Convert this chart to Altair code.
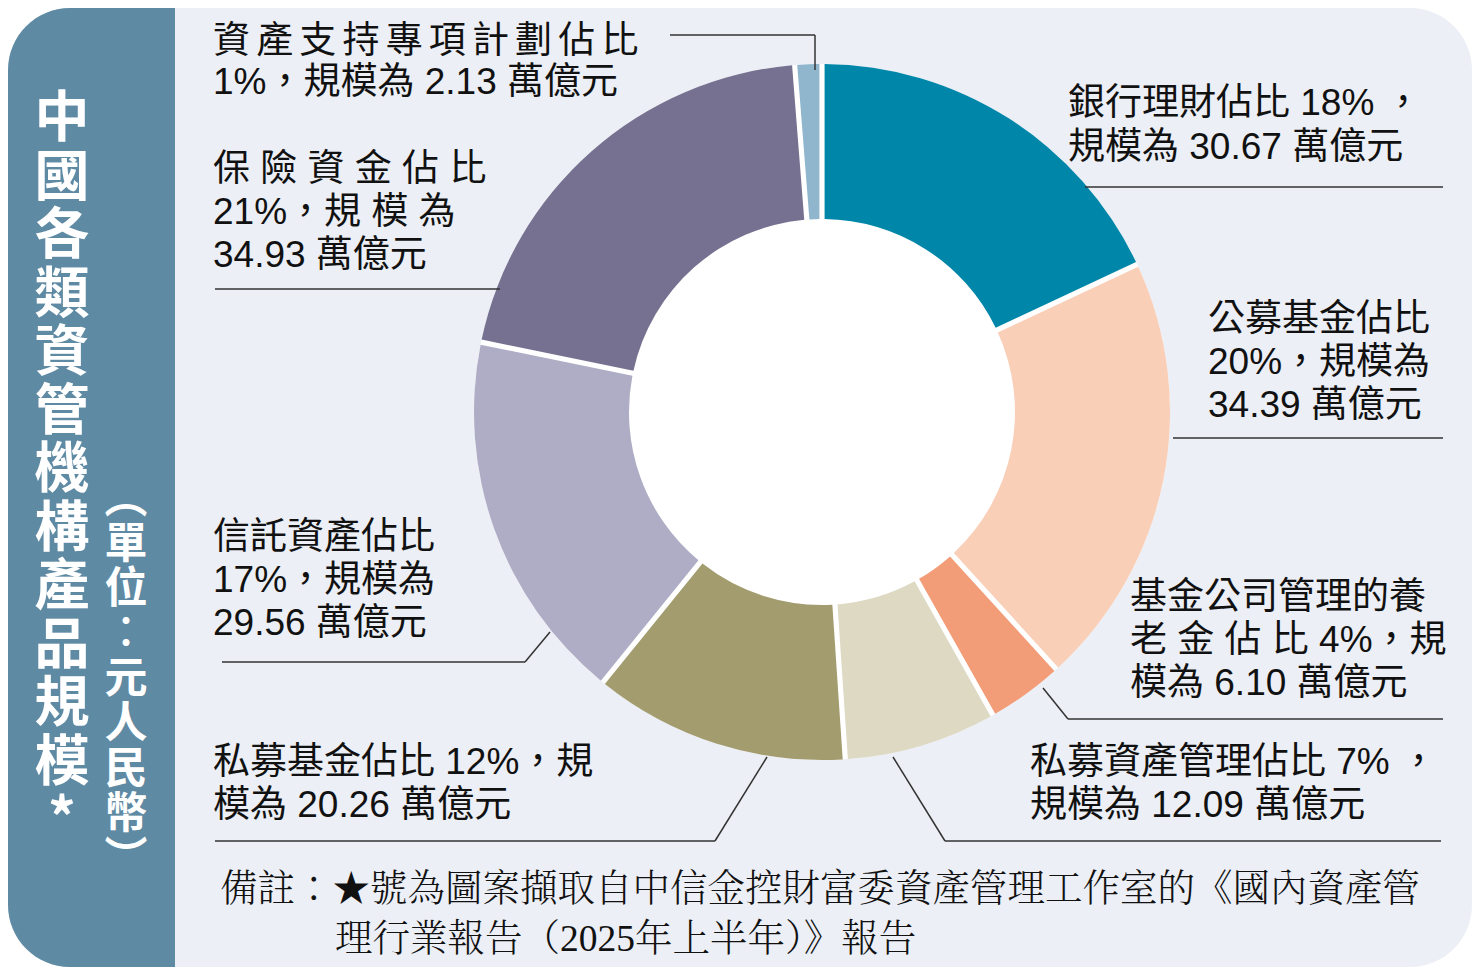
import altair as alt
import pandas as pd
import math

# ---------------- data ----------------
categories = ["銀行理財", "公募基金", "基金公司管理的養老金", "私募資產管理",
              "私募基金", "信託資產", "保險資金", "資產支持專項計劃"]
values = [30.67, 34.39, 6.10, 12.09, 20.26, 29.56, 34.93, 2.13]
shares = [18, 20, 4, 7, 12, 17, 21, 1]
colors = ["#0086A8", "#F9CFB8", "#F29C78", "#DDD9C3",
          "#A39C6F", "#AEADC5", "#767190", "#8FB6CD"]

title_chars = list("中國各類資管機構產品規模*")
unit_chars = ["︵", "單", "位", "︰", "元", "人", "民", "幣", "︶"]
note_lines = ["備註：★號為圖案擷取自中信金控財富委資產管理工作室的《國內資產管",
              "理行業報告（2025年上半年）》報告"]

def v(i):
    return f"{values[i]:.2f}"

S6 = "\u2006"  # narrow space used for the spaced-out headings
label_lines = [
    [f"銀行理財佔比 {shares[0]}% ，", f"規模為 {v(0)} 萬億元"],
    ["公募基金佔比", f"{shares[1]}%，規模為", f"{v(1)} 萬億元"],
    ["基金公司管理的養", f"老 金 佔 比 {shares[2]}%，規", f"模為 {v(2)} 萬億元"],
    [f"私募資產管理佔比 {shares[3]}% ，", f"規模為 {v(3)} 萬億元"],
    [f"私募基金佔比 {shares[4]}%，規", f"模為 {v(4)} 萬億元"],
    ["信託資產佔比", f"{shares[5]}%，規模為", f"{v(5)} 萬億元"],
    ["保 險 資 金 佔 比", f"{shares[6]}%，規 模 為", f"{v(6)} 萬億元"],
    [S6.join("資產支持專項計劃佔比"), f"{shares[7]}%，規模為 {v(7)} 萬億元"],
]

# ---------------- layout (reference pixel coords, minus page margin) ----------------
OFF = 8
W, H = 1464, 959
CX, CY = 822 - OFF, 412 - OFF
R_OUT, R_IN = 348, 193

label_anchor = [  # left x, first-line centre y, line step
    (1068, 104, 44), (1208, 320, 43), (1130, 598, 43), (1030, 763, 43),
    (213, 763, 43), (213, 538, 43), (213, 170, 43), (213, 42, 41),
]
segments = [
    (670, 35, 815, 35), (815, 35, 815, 70),
    (215, 289, 500, 289),
    (222, 662, 525, 662), (525, 662, 550, 632),
    (215, 841, 715, 841), (715, 841, 767, 757),
    (1085, 187, 1443, 187),
    (1173, 438, 1443, 438),
    (1043, 688, 1068, 719), (1068, 719, 1443, 719),
    (893, 757, 945, 841), (945, 841, 1441, 841),
]

CJK = "Noto Sans CJK TC"
LABEL_FONT = "Liberation Sans, " + CJK
NOTE_FONT = "Liberation Serif, Noto Serif CJK TC, " + CJK

pie_df = pd.DataFrame({"category": categories, "value": values,
                       "idx": list(range(len(categories)))})

lab_rows = []
for lines, (lx, ly, step) in zip(label_lines, label_anchor):
    for k, t in enumerate(lines):
        lab_rows.append({"x": lx - OFF, "y": ly + k * step - OFF, "text": t})
lab_df = pd.DataFrame(lab_rows)

seg_df = pd.DataFrame([{"x": a - OFF, "y": b - OFF, "x2": c - OFF, "y2": d - OFF}
                       for a, b, c, d in segments])

T_FIRST, T_STEP = 119, 58.5
U_FIRST, U_STEP = 500, 45
title_df = pd.DataFrame({"x": [62 - OFF], "y": [T_FIRST - OFF], "text": [title_chars]})
unit_df = pd.DataFrame({"x": [126 - OFF], "y": [U_FIRST - OFF], "text": [unit_chars]})
note_df = pd.DataFrame([{"x": 220 - OFF, "y": 890 - OFF, "text": note_lines[0]},
                        {"x": 335 - OFF, "y": 940 - OFF, "text": note_lines[1]}])

one = pd.DataFrame({"a": [0]})

card = alt.Chart(one).mark_rect(cornerRadius=62, color="#ECEFF5").encode(
    x=alt.value(0), x2=alt.value(W), y=alt.value(0), y2=alt.value(H))
panel = alt.Chart(one).mark_rect(cornerRadiusTopLeft=62, cornerRadiusBottomLeft=62,
                                 color="#5F8AA3").encode(
    x=alt.value(0), x2=alt.value(175 - OFF), y=alt.value(0), y2=alt.value(H))

disc = alt.Chart(one).mark_arc(radius=R_OUT, theta=0, theta2=2 * math.pi,
                               color="white").encode(
    x=alt.value(CX), y=alt.value(CY))

donut = alt.Chart(pie_df).mark_arc(radius=R_OUT, innerRadius=R_IN,
                                   padAngle=0.013).encode(
    theta=alt.Theta("value:Q", stack=True),
    color=alt.Color("category:N", scale=alt.Scale(domain=categories, range=colors),
                    legend=None),
    order=alt.Order("idx:Q"),
    x=alt.value(CX), y=alt.value(CY))

rules = alt.Chart(seg_df).mark_rule(color="#333333", strokeWidth=1.5).encode(
    x=alt.X("x:Q", scale=None), y=alt.Y("y:Q", scale=None),
    x2="x2:Q", y2="y2:Q")

labels = alt.Chart(lab_df).mark_text(align="left", baseline="middle", font=LABEL_FONT,
                                     fontSize=37, color="#111111").encode(
    x=alt.X("x:Q", scale=None), y=alt.Y("y:Q", scale=None), text="text:N")

title = alt.Chart(title_df).mark_text(align="center", baseline="middle", font=CJK,
                                      fontSize=55, fontWeight="bold",
                                      lineHeight=T_STEP, color="white").encode(
    x=alt.X("x:Q", scale=None), y=alt.Y("y:Q", scale=None), text="text")

unit = alt.Chart(unit_df).mark_text(align="center", baseline="middle", font=CJK,
                                    fontSize=43, fontWeight="bold",
                                    lineHeight=U_STEP, color="white").encode(
    x=alt.X("x:Q", scale=None), y=alt.Y("y:Q", scale=None), text="text")

note = alt.Chart(note_df).mark_text(align="left", baseline="middle",
                                    font=NOTE_FONT, fontWeight=300,
                                    fontSize=37.5, color="#111111").encode(
    x=alt.X("x:Q", scale=None), y=alt.Y("y:Q", scale=None), text="text:N")

chart = alt.layer(card, panel, disc, donut, rules, labels, title, unit, note).properties(
    width=W, height=H, padding=0, autosize=alt.AutoSizeParams(type="none"),
    background="white"
).configure_view(stroke=None)

chart.save("out.html", embed_options={"renderer": "svg", "actions": False})
